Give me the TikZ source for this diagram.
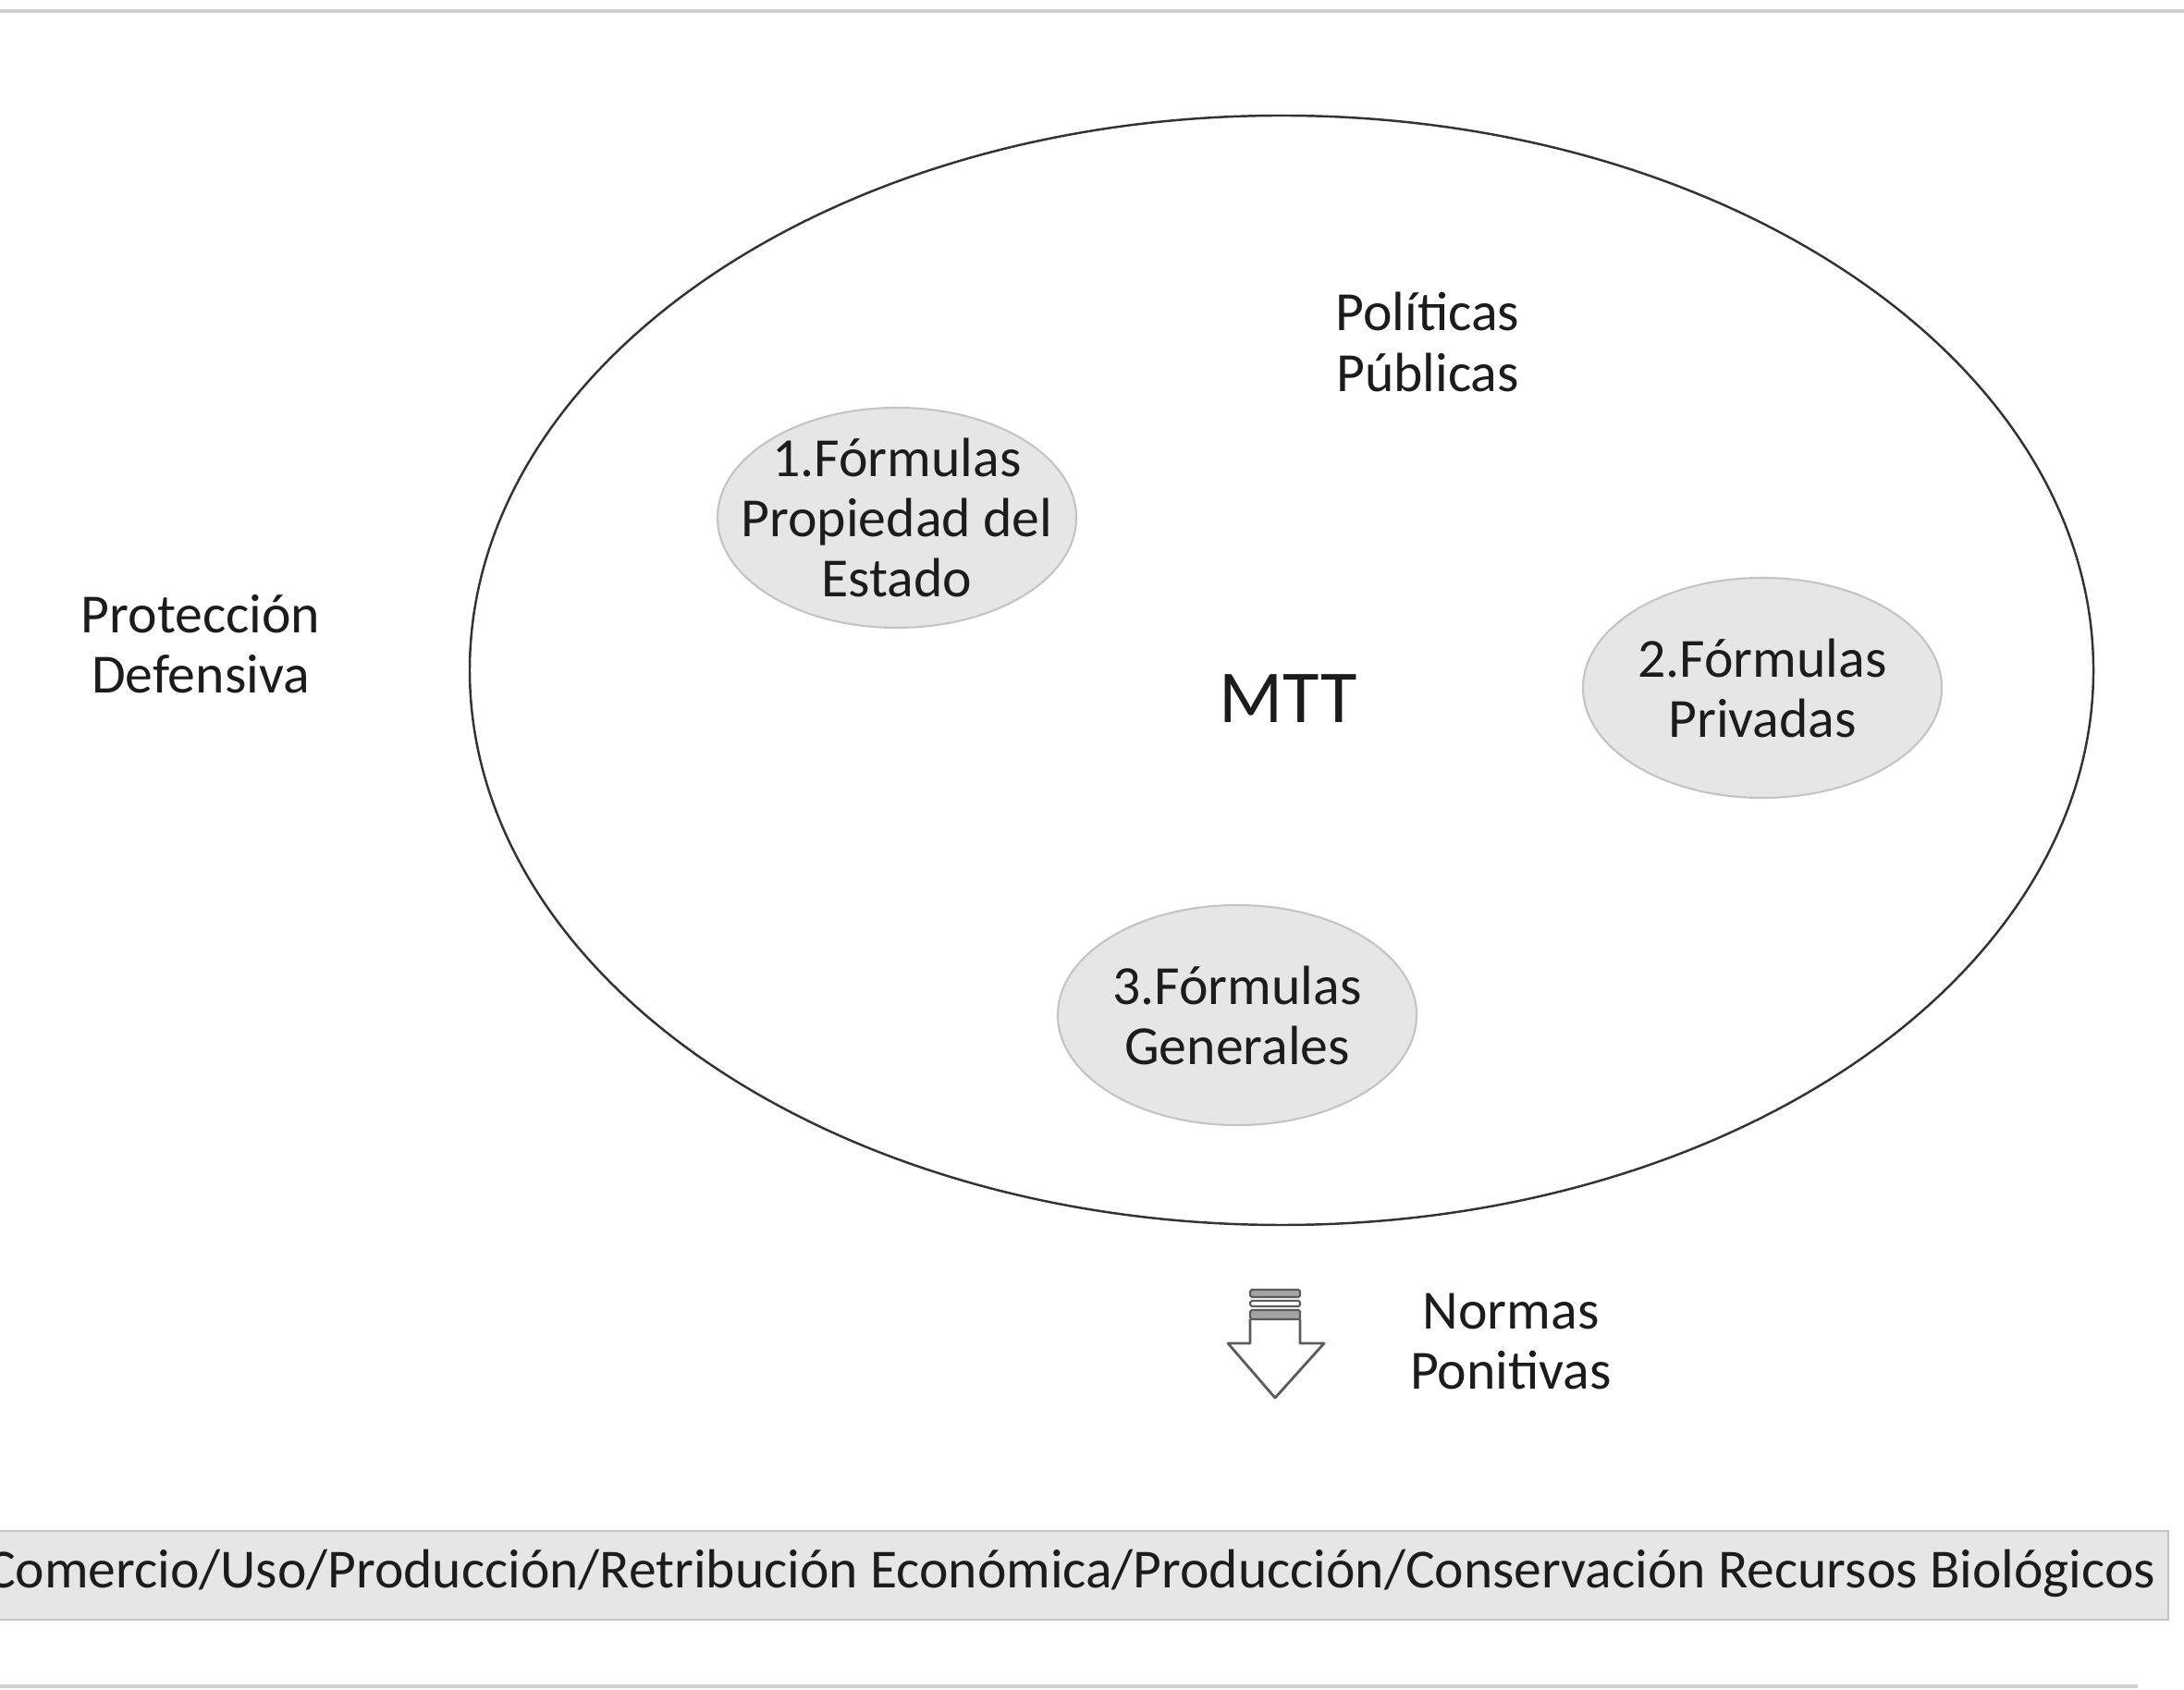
\documentclass[tikz,border=0pt]{standalone}
\usepackage{fontspec}
\setmainfont{Carlito}
\usetikzlibrary{shapes.geometric,positioning}
\definecolor{txt}{HTML}{1C1C1C}
\definecolor{shade}{HTML}{E6E6E6}
\definecolor{rim}{HTML}{C4C4C4}
\definecolor{edge}{HTML}{333333}
\tikzset{lbl/.style={align=center,text=txt,font=\fontsize{17}{18.5}\selectfont,inner sep=0pt},
  fml/.style={ellipse,draw=rim,fill=shade,line width=.6pt,lbl,inner sep=-.32cm,minimum width=3.88cm,minimum height=2.38cm},
  rule/.style={draw=rim!80,line width=.9pt}}
\begin{document}
\begin{tikzpicture}
\useasboundingbox (0,0) rectangle (23.62,18.27);
\fill[white] (0,0) rectangle (23.62,18.27);
\draw[rule] (0,18.15)--(23.62,18.15);
\draw[rule] (0,0.03)--(23.12,0.03);
% outer set
\node[ellipse,draw=edge,line width=.7pt,minimum width=17.56cm,minimum height=12cm,inner sep=0pt] (mtt) at (13.86,11.02) {};
\node[lbl,font=\fontsize{23}{25}\selectfont] (mttlbl) at (13.93,10.71) {MTT};
\node[lbl] (pol) at (15.44,14.57) {Políticas\\Públicas};
\node[fml] (f1) at (9.70,12.67) {1.Fórmulas\\Propiedad del\\Estado};
\node[fml] (f2) at (19.06,10.83) {2.Fórmulas\\Privadas};
\node[fml] (f3) at (13.38,7.29) {3.Fórmulas\\Generales};
\node[lbl] (def) at (2.17,11.30) {Protección\\Defensiva};
% arrow to the norms
\draw[edge!80,line width=.8pt,line join=round,fill=white] (13.52,4.00)--(13.52,3.74)--(13.28,3.74)--(13.79,3.15)--(14.32,3.74)--(14.06,3.74)--(14.06,4.00);
\draw[edge!80,line width=.6pt,fill=edge!45,rounded corners=.5pt] (13.52,4.24) rectangle (14.06,4.32);
\draw[edge!80,line width=.6pt,fill=white,rounded corners=.5pt] (13.52,4.14) rectangle (14.06,4.20);
\draw[edge!80,line width=.6pt,fill=edge!45,rounded corners=.5pt] (13.52,4.00) rectangle (14.06,4.10);
\node[lbl] (norm) at (16.34,3.76) {Normas\\Ponitivas};
% bottom strip
\node[draw=rim,fill=shade,line width=.8pt,minimum height=0.96cm,minimum width=23.55cm,inner sep=0pt] (bar) at (11.675,1.23) {};
\node[lbl,anchor=base east,font=\fontsize{16.95}{18.5}\selectfont] (uses) at (23.32,1.10) {Comercio/Uso/Producción/Retribución Económica/Producción/Conservación Recursos Biológicos};
\end{tikzpicture}
\end{document}
